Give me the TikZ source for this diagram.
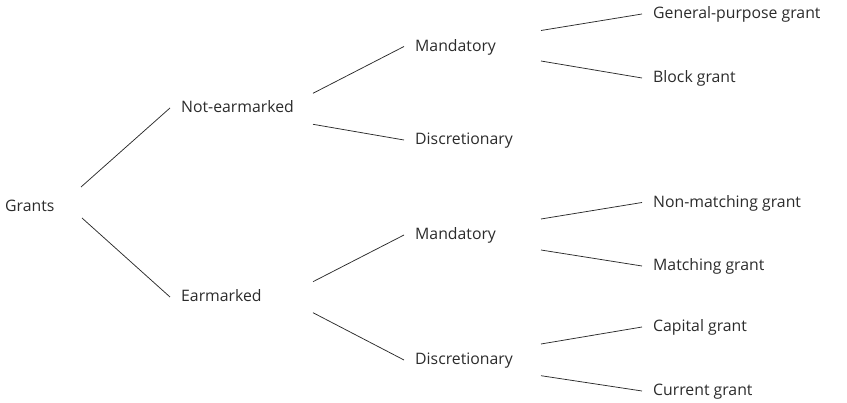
\documentclass[tikz,border=0pt]{standalone}
\usepackage{fontspec}
\setmainfont{Open Sans}
\usetikzlibrary{calc}
\definecolor{cink}{HTML}{2B2B2B}
% one branch: from a point beside the parent to just before the child
\newcommand{\twig}[4]{%
  \draw[branch] ($(#1.base west)+(#3,#4)$) -- ($(#2.base west)+(-11,-5)$);}

\begin{document}
\begin{tikzpicture}[
    x=1pt, y=-1pt,
    lbl/.style={anchor=base west, inner sep=0pt, text=cink,
                font=\fontsize{15.8}{19}\selectfont},
    branch/.style={line width=0.75pt, draw=cink},
  ]
  \path[use as bounding box] (0,0) rectangle (847,403);
  % == the labels, one column per level
  \node[lbl] (grants) at (5,211.5) {Grants};
  \node[lbl] (notear) at (181,113) {Not-earmarked};
  \node[lbl] (ear) at (181,302) {Earmarked};
  \node[lbl] (mandA) at (415,51.5) {Mandatory};
  \node[lbl] (discA) at (415,145) {Discretionary};
  \node[lbl] (mandB) at (415,240) {Mandatory};
  \node[lbl] (discB) at (415,365) {Discretionary};
  \node[lbl] (general) at (653,19) {General-purpose grant};
  \node[lbl] (block) at (653,83) {Block grant};
  \node[lbl] (nonmatch) at (653,207.5) {Non-matching grant};
  \node[lbl] (match) at (653,271) {Matching grant};
  \node[lbl] (capital) at (653,332) {Capital grant};
  \node[lbl] (current) at (653,396) {Current grant};
  % == the branches
  \twig{grants}{notear}{76}{-24.5}
  \twig{grants}{ear}{77}{6.5}
  \twig{notear}{mandA}{132}{-19.7}
  \twig{notear}{discA}{132}{11.3}
  \twig{ear}{mandB}{132}{-20.3}
  \twig{ear}{discB}{132}{10.7}
  \twig{mandA}{general}{126}{-21}
  \twig{mandA}{block}{126}{9.5}
  \twig{mandB}{nonmatch}{126}{-21}
  \twig{mandB}{match}{126}{10}
  \twig{discB}{capital}{126}{-21}
  \twig{discB}{current}{126}{10.7}
\end{tikzpicture}
\end{document}
